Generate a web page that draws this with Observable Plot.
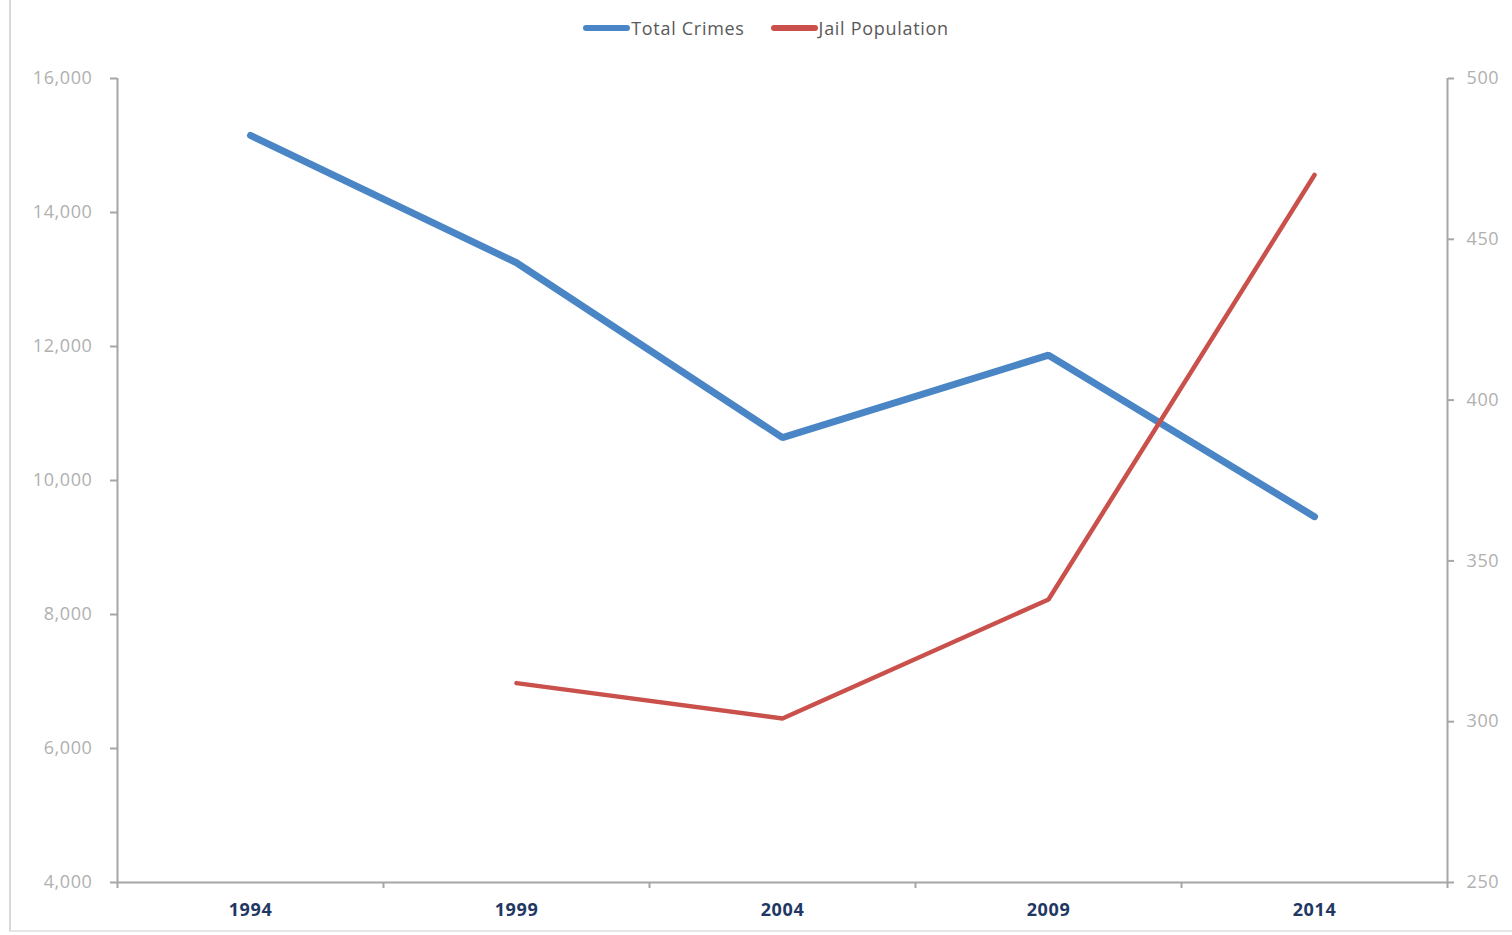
<!DOCTYPE html>
<html>
<head>
<meta charset="utf-8">
<script src="https://cdn.jsdelivr.net/npm/d3@7"></script>
<script src="https://cdn.jsdelivr.net/npm/@observablehq/plot@0.6"></script>
<style>
  html, body { margin: 0; padding: 0; background: #fff; }
  #wrap { position: relative; width: 1512px; height: 935px; overflow: hidden; font-family: "Open Sans", sans-serif; }
  #frame { position: absolute; left: 9px; top: -2px; width: 1520px; height: 934px; border-left: 2px solid #d9d9d9; border-bottom: 2px solid #e6e6e6; box-sizing: border-box; pointer-events: none; }
  #legend { height: 55px; display: flex; justify-content: center; align-items: center; padding-left: 20px; box-sizing: border-box; font-size: 18px; letter-spacing: 0.7px; color: #595959; }
  .item { display: flex; align-items: center; margin: 0 13px; }
  .sw { width: 47px; height: 6px; border-radius: 3px; margin-right: 1px; }
  svg { display: block; }
</style>
</head>
<body>
<div id="wrap">
  <div id="legend"></div>
  <div id="chart"></div>
  <div id="frame"></div>
</div>
<script>
const years = [1994, 1999, 2004, 2009, 2014];
const totalCrimes = [15150, 13250, 10640, 11870, 9460];
const jailPopulation = [null, 312, 301, 338, 470];
const leftTicks = [4000, 6000, 8000, 10000, 12000, 14000, 16000];
const rightTicks = [250, 300, 350, 400, 450, 500];
const seriesNames = ["Total Crimes", "Jail Population"];
const seriesColors = ["#4a86c5", "#c9504b"];

// map right axis (250..500) onto left axis (4000..16000)
const leftDomain = [4000, 16000];
const rightDomain = [250, 500];
const toLeft = v => leftDomain[0] + (v - rightDomain[0]) * (leftDomain[1] - leftDomain[0]) / (rightDomain[1] - rightDomain[0]);

const crimesData = years.map((y, i) => ({year: y, value: totalCrimes[i]}));
const jailData = years.map((y, i) => ({year: y, value: jailPopulation[i]})).filter(d => d.value != null);

const step = years[1] - years[0];
const boundaries = [...years.map(y => y - step / 2), years[years.length - 1] + step / 2];
const xDomain = [boundaries[0], boundaries[boundaries.length - 1]];

// legend
const legend = document.getElementById("legend");
seriesNames.forEach((name, i) => {
  const it = document.createElement("div");
  it.className = "item";
  const sw = document.createElement("div");
  sw.className = "sw";
  sw.style.background = seriesColors[i];
  const tx = document.createElement("span");
  tx.textContent = name;
  it.appendChild(sw); it.appendChild(tx);
  legend.appendChild(it);
});

const axisColor = "#a6a6a6";
const labelColor = "#b0b0b0";
const chart = Plot.plot({
  width: 1512,
  height: 880,
  marginTop: 23,
  marginBottom: 53,
  marginLeft: 117,
  marginRight: 65,
  style: {fontFamily: "Open Sans, sans-serif", fontSize: "16px", letterSpacing: "0.6px", background: "transparent", overflow: "visible"},
  x: {domain: xDomain},
  y: {domain: leftDomain},
  marks: [
    // axis lines
    Plot.ruleY([leftDomain[0]], {stroke: axisColor, strokeWidth: 2}),
    Plot.ruleX([xDomain[0]], {stroke: axisColor, strokeWidth: 2}),
    Plot.ruleX([xDomain[1]], {stroke: axisColor, strokeWidth: 2}),
    // left axis
    Plot.axisY({anchor: "left", ticks: leftTicks, tickSize: 7, tickPadding: 18, tickFormat: d3.format(","), stroke: axisColor, strokeWidth: 2, fill: labelColor, fontSize: 18, label: null}),
    // right axis
    Plot.axisY({anchor: "right", ticks: rightTicks.map(toLeft), tickSize: 6, tickPadding: 13, tickFormat: (d, i) => String(rightTicks[i]), stroke: axisColor, strokeWidth: 2, fill: labelColor, fontSize: 18, label: null}),
    // x tick marks at category boundaries
    Plot.axisX({ticks: boundaries, tickSize: 6, tickFormat: () => "", stroke: axisColor, strokeWidth: 2, label: null}),
    // x labels at category centres
    Plot.axisX({ticks: years, tickSize: 0, tickPadding: 21, tickFormat: d => String(d), fill: "#1f3864", fontWeight: "bold", fontSize: 18, label: null}),
    // lines
    Plot.line(crimesData, {x: "year", y: "value", stroke: seriesColors[0], strokeWidth: 7, strokeLinecap: "round", strokeLinejoin: "miter"}),
    Plot.line(jailData, {x: "year", y: d => toLeft(d.value), stroke: seriesColors[1], strokeWidth: 4.5, strokeLinecap: "round", strokeLinejoin: "miter"})
  ]
});
document.getElementById("chart").appendChild(chart);
</script>
</body>
</html>
